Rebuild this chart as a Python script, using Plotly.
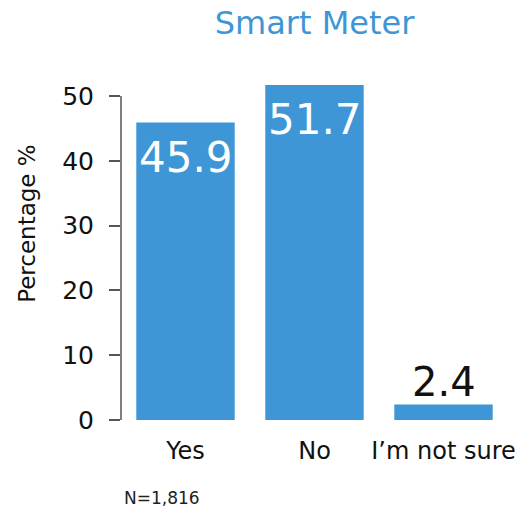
import plotly.graph_objects as go

# Data
categories = ["Yes", "No", "I\u2019m not sure"]
percentages = [45.9, 51.7, 2.4]
y_tick_values = [0, 10, 20, 30, 40, 50]
sample_note = "N=1,816"

bar_color = "#3f96d6"
font_family = "DejaVu Sans"

fig = go.Figure(go.Bar(
    x=categories,
    y=percentages,
    marker=dict(color=bar_color, line=dict(width=0)),
    hoverinfo="x+y",
))

# Value labels: white inside tall bars, black above the short one
annotations = []
for cat, val in zip(categories, percentages):
    if val > 10:
        annotations.append(dict(
            x=cat, y=val, text=f"{val:.1f}", showarrow=False,
            yanchor="top", yshift=-8,
            font=dict(family=font_family, size=42, color="white")))
    else:
        annotations.append(dict(
            x=cat, y=val, text=f"{val:.1f}", showarrow=False,
            yanchor="bottom", yshift=-3,
            font=dict(family=font_family, size=40, color="#111111")))

# Y axis title and sample size note
annotations.append(dict(
    text="Percentage %", xref="paper", yref="paper", x=0, y=0.582,
    xanchor="center", yanchor="middle",
    xshift=-94, textangle=-90, showarrow=False,
    font=dict(family=font_family, size=23, color="#111111")))
annotations.append(dict(
    text=sample_note, xref="paper", yref="paper", x=0, y=-0.2315,
    xanchor="left", yanchor="middle", xshift=1, showarrow=False,
    font=dict(family=font_family, size=17, color="#222222")))

fig.update_layout(
    width=527,
    height=510,
    margin=dict(l=121, r=13, t=83, b=90),
    paper_bgcolor="white",
    plot_bgcolor="white",
    bargap=0.237,
    showlegend=False,
    font=dict(family=font_family, color="#111111"),
    title=dict(
        text="Smart Meter",
        x=0.5, xref="paper", xanchor="center",
        y=0.955, yref="container", yanchor="middle",
        font=dict(family=font_family, size=32, color="#3f96d6"),
    ),
    annotations=annotations,
    # y axis line only spans 0..50
    shapes=[dict(type="line", xref="paper", yref="y", x0=0, x1=0, y0=0, y1=50,
                 line=dict(color="#555555", width=1.5))],
)

fig.update_xaxes(
    showline=False, showgrid=False, zeroline=False, ticks="",
    tickfont=dict(family=font_family, size=24, color="#111111"),
    ticklabelstandoff=14,
)
fig.update_yaxes(
    range=[0, 52], showline=False, showgrid=False, zeroline=False,
    tickvals=y_tick_values, ticks="outside", ticklen=11, tickwidth=1.5,
    tickcolor="#555555",
    tickfont=dict(family=font_family, size=25, color="#111111"),
    ticklabelstandoff=10,
)

# drop the default page margin so the figure sits at the window's corner
fig.write_html("out.html", config={"displayModeBar": False},
               post_script="document.body.style.margin='0';")
